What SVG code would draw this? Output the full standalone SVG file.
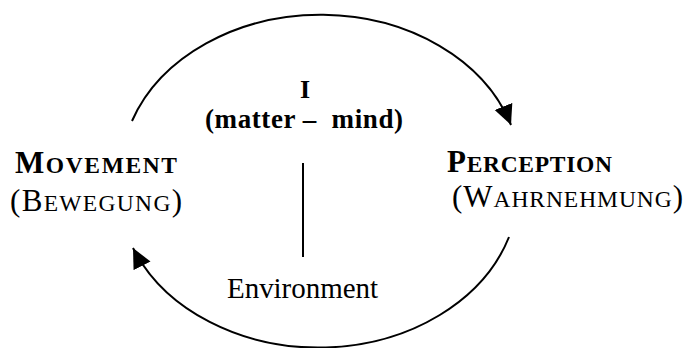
<svg xmlns="http://www.w3.org/2000/svg" width="688" height="348" viewBox="0 0 688 348">
<style>
text{font-family:"Liberation Serif","Times New Roman",serif;fill:#000;white-space:pre}
.b{font-weight:bold}
.lbl{font-size:31px}
.sc{font-size:23.5px}
.arc{fill:none;stroke:#000;stroke-width:2}
</style>
<defs>
<marker id="ah" markerUnits="userSpaceOnUse" markerWidth="22" markerHeight="20" refX="20" refY="9.5" orient="auto">
<path d="M0,0 L20,9.5 L0,19 z" fill="#000"/>
</marker>
</defs>
<g id="connectors">
<path class="arc" d="M132,121 A200,159 0 0 1 511,125" marker-end="url(#ah)"/>
<path class="arc" d="M509,237 A200,159 0 0 1 133,248" marker-end="url(#ah)"/>
<line x1="303" y1="163" x2="303" y2="257" stroke="#000" stroke-width="2"/>
</g>
<g id="movement">
<text class="lbl b" x="15" y="173" textLength="162" lengthAdjust="spacing">M<tspan class="sc">OVEMENT</tspan></text>
<text class="lbl" x="10" y="211" textLength="172" lengthAdjust="spacing">(B<tspan class="sc">EWEGUNG</tspan>)</text>
</g>
<g id="perception">
<text class="lbl b" x="447" y="172" textLength="165" lengthAdjust="spacing">P<tspan class="sc">ERCEPTION</tspan></text>
<text class="lbl" x="452" y="207" textLength="231" lengthAdjust="spacing">(W<tspan class="sc">AHRNEHMUNG</tspan>)</text>
</g>
<g id="self">
<text class="b" x="305" y="98" font-size="26" text-anchor="middle">I</text>
<text class="b" x="205" y="128" font-size="27" textLength="198" lengthAdjust="spacing">(matter –  mind)</text>
</g>
<g id="environment">
<text x="227" y="298" font-size="29" textLength="151" lengthAdjust="spacing">Environment</text>
</g>
</svg>
